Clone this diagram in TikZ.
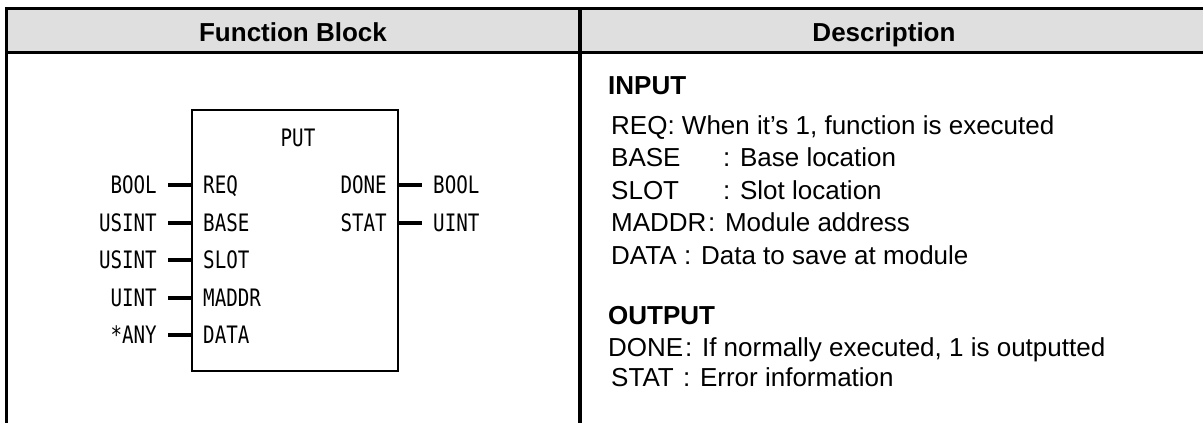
\documentclass[tikz,border=0pt]{standalone}
\usepackage{fontspec}
\setmainfont{Liberation Sans}
\newfontfamily\fbfont[FakeStretch=0.8]{DejaVu Sans Mono}

\begin{document}
\begin{tikzpicture}[x=1pt, y=-1pt,
  hdrtxt/.style={font=\fontsize{26}{31}\selectfont\bfseries, inner sep=0pt, text height=18.6pt, text depth=0pt},
  desctxt/.style={anchor=west, font=\fontsize{26}{31}\selectfont, inner sep=0pt, text height=18.6pt, text depth=0pt},
  fbbox/.style={draw, line width=2.2pt, inner sep=0pt, minimum width=206pt, minimum height=261pt},
  portlbl/.style={font=\fbfont\fontsize{24}{28}\selectfont, inner ysep=0pt, inner xsep=11pt, text height=17.5pt, text depth=0pt},
  typelbl/.style={portlbl},
  wire/.style={line width=3.5pt},
  rule/.style={line width=3.3pt}
]
\useasboundingbox (0,0) rectangle (1203,423);

% ---- Table frame ----
\fill[gray!25] (6.7,8.3) rectangle (1203,52.3);
\draw[rule] (1203,8.3) -- (6.7,8.3) -- (6.7,423);
\draw[rule] (6.7,52.3) -- (1203,52.3);
\draw[rule] (580,8.3) -- (580,423);
\node[hdrtxt] (hfb) at (293,32) {Function Block};
\node[hdrtxt] (hdesc) at (884,32) {Description};

% ---- Function block ----
\node[fbbox] (fb) at (295,240.5) {};
\node[portlbl] (put) at (298,138) {PUT};

\node[portlbl, anchor=west] (req) at (192,185) {REQ};
\node[portlbl, anchor=west] (base) at (192,223) {BASE};
\node[portlbl, anchor=west] (slot) at (192,260) {SLOT};
\node[portlbl, anchor=west] (maddr) at (192,298) {MADDR};
\node[portlbl, anchor=west] (data) at (192,335) {DATA};
\node[portlbl, anchor=east] (done) at (398,185) {DONE};
\node[portlbl, anchor=east] (stat) at (398,223) {STAT};

\node[typelbl, anchor=east] (tReq) at (168,185) {BOOL};
\node[typelbl, anchor=east] (tBase) at (168,223) {USINT};
\node[typelbl, anchor=east] (tSlot) at (168,260) {USINT};
\node[typelbl, anchor=east] (tMaddr) at (168,298) {UINT};
\node[typelbl, anchor=east] (tData) at (168,335) {*ANY};
\node[typelbl, anchor=west] (tDone) at (422,185) {BOOL};
\node[typelbl, anchor=west] (tStat) at (422,223) {UINT};

\draw[wire] (tReq.east) -- (req.west);
\draw[wire] (tBase.east) -- (base.west);
\draw[wire] (tSlot.east) -- (slot.west);
\draw[wire] (tMaddr.east) -- (maddr.west);
\draw[wire] (tData.east) -- (data.west);
\draw[wire] (done.east) -- (tDone.west);
\draw[wire] (stat.east) -- (tStat.west);

% ---- Description ----
\node[desctxt, font=\fontsize{26}{31}\selectfont\bfseries] (dIn) at (608,85) {INPUT};
\node[desctxt] (dReq) at (611,125) {REQ: When it’s 1, function is executed};
\node[desctxt] (dBase) at (611,157.5) {\makebox[112pt][l]{BASE}: Base location};
\node[desctxt] (dSlot) at (611,190) {\makebox[112pt][l]{SLOT}: Slot location};
\node[desctxt] (dMaddr) at (611,222.5) {\makebox[97pt][l]{MADDR}: Module address};
\node[desctxt] (dData) at (611,255) {\makebox[73pt][l]{DATA}: Data to save at module};
\node[desctxt, font=\fontsize{26}{31}\selectfont\bfseries] (dOut) at (608,315) {OUTPUT};
\node[desctxt] (dDone) at (608,347) {\makebox[77pt][l]{DONE}: If normally executed, 1 is outputted};
\node[desctxt] (dStat) at (611,377) {\makebox[72pt][l]{STAT}: Error information};

\end{tikzpicture}
\end{document}
